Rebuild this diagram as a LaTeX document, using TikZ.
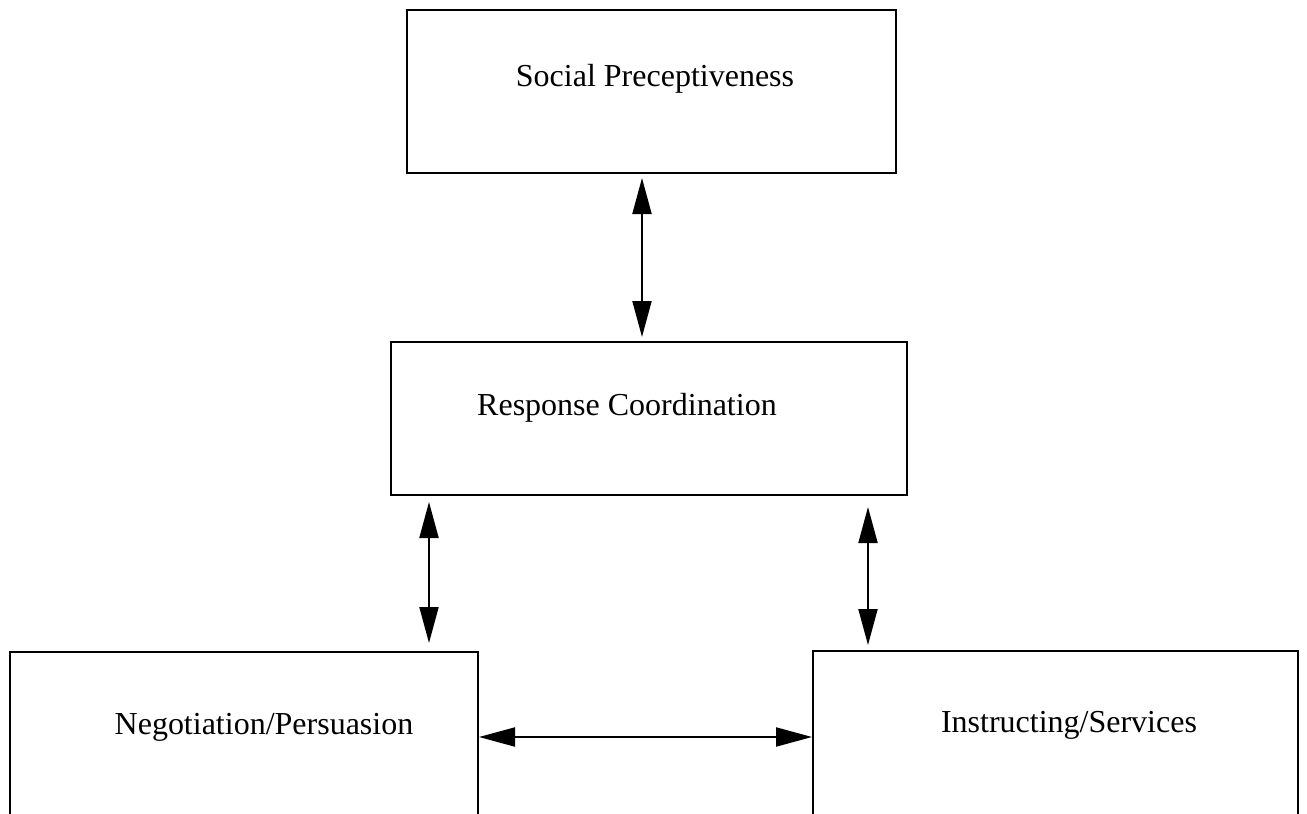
\documentclass[tikz,border=0pt]{standalone}
\usepackage{fontspec}
\setmainfont{Liberation Serif}
\usetikzlibrary{arrows.meta}
\begin{document}
\begin{tikzpicture}[x=1pt,y=-1pt,
  box/.style={draw, line width=2.2pt, rectangle, inner sep=0pt, outer sep=0pt},
  lbl/.style={anchor=base, inner sep=0pt, font=\fontsize{32}{38}\selectfont},
  link/.style={line width=2pt, {Triangle[length=36pt,width=19pt]}-{Triangle[length=36pt,width=19pt]}}]
  \useasboundingbox (0,0) rectangle (1307,814);
  \clip (0,0) rectangle (1307,814);
  \fill[white] (0,0) rectangle (1307,814);

  % the four skill boxes
  \node[box, minimum width=489pt, minimum height=163pt] (social) at (651.5,91.5) {};
  \node[box, minimum width=516pt, minimum height=153pt] (resp) at (649,418.5) {};
  \node[box, minimum width=468pt, minimum height=190pt] (nego) at (244,747) {};
  \node[box, minimum width=485pt, minimum height=190pt] (instr) at (1055.5,746) {};

  % their captions
  \node[lbl] (socialtxt) at (655,86) {Social Preceptiveness};
  \node[lbl] (resptxt) at (627,415) {Response Coordination};
  \node[lbl] (negotxt) at (264,734) {Negotiation/Persuasion};
  \node[lbl] (instrtxt) at (1069,732) {Instructing/Services};

  % positions of the links
  \coordinate (xa) at (642,0);
  \coordinate (xb) at (429,0);
  \coordinate (xc) at (868,0);
  \coordinate (yd) at (0,737);

  \draw[link, shorten <=5pt, shorten >=5pt] (social.south -| xa) -- (resp.north -| xa);
  \draw[link, shorten <=7pt, shorten >=9pt] (resp.south -| xb) -- (nego.north -| xb);
  \draw[link, shorten <=12pt, shorten >=6pt] (resp.south -| xc) -- (instr.north -| xc);
  \draw[link, shorten <=1pt, shorten >=1pt] (nego.east |- yd) -- (instr.west |- yd);
\end{tikzpicture}
\end{document}
